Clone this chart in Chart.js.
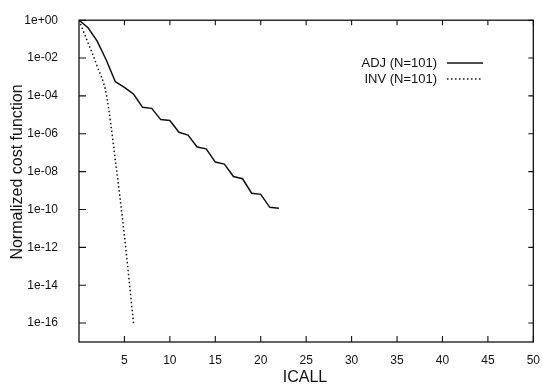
<!DOCTYPE html>
<html><head><meta charset="utf-8">
<script src="https://cdn.jsdelivr.net/npm/chart.js@4"></script>
<style>html,body{margin:0;padding:0;background:#fff}#wrap{width:543px;height:389px;position:relative}</style>
</head><body><div id="wrap"><canvas id="c" width="543" height="389"></canvas></div>
<script>
// ---- data ----
const adjIcall = [0,1,2,3,4,5,6,7,8,9,10,11,12,13,14,15,16,17,18,19,20,21,22];
const adjValues = [1, 4.0e-1, 7.9e-2, 7.9e-3, 5.6e-4, 2.8e-4, 1.26e-4, 2.5e-5, 2.2e-5, 5.6e-6, 5.0e-6,
  1.2e-6, 8.5e-7, 2.0e-7, 1.6e-7, 3.2e-8, 2.5e-8, 5.5e-9, 4.2e-9, 7.2e-10, 6.3e-10, 1.3e-10, 1.17e-10];
const invIcall = [0,1,2,3,4,5,6];
const invValues = [1, 6.3e-2, 3.7e-3, 1.26e-4, 4.0e-8, 4.0e-12, 1.0e-16];
const seriesLabels = ['ADJ (N=101)', 'INV (N=101)'];
const xTicks = [5,10,15,20,25,30,35,40,45,50];
const yTicks = [1e0,1e-2,1e-4,1e-6,1e-8,1e-10,1e-12,1e-14,1e-16];
const yTickLabels = ['1e+00','1e-02','1e-04','1e-06','1e-08','1e-10','1e-12','1e-14','1e-16'];
const xTitle = 'ICALL';
const yTitle = 'Normalized cost function';

const INK = '#111';
const FONT = '"Liberation Sans", Arial, Helvetica, sans-serif';

const framePlugin = {
  id: 'frame',
  afterDatasetsDraw(chart) {
    const {ctx, chartArea: a, scales: {x, y}} = chart;
    ctx.save();
    ctx.strokeStyle = INK;
    ctx.lineWidth = 1.3;
    ctx.strokeRect(a.left, a.top, a.right - a.left, a.bottom - a.top);
    ctx.lineWidth = 1.1;
    ctx.beginPath();
    xTicks.forEach(v => {
      const px = x.getPixelForValue(v);
      ctx.moveTo(px, a.bottom); ctx.lineTo(px, a.bottom - 6);
      ctx.moveTo(px, a.top); ctx.lineTo(px, a.top + 5);
    });
    yTicks.forEach(v => {
      const py = y.getPixelForValue(v);
      ctx.moveTo(a.left, py); ctx.lineTo(a.left + 7, py);
      ctx.moveTo(a.right, py); ctx.lineTo(a.right - 5, py);
    });
    ctx.stroke();

    // axis titles
    ctx.fillStyle = INK;
    ctx.font = '16px ' + FONT;
    ctx.textAlign = 'center';
    ctx.textBaseline = 'middle';
    ctx.fillText(xTitle, 305, 378);
    ctx.save();
    ctx.translate(18, 172);
    ctx.rotate(-Math.PI / 2);
    ctx.fillText(yTitle, 0, 0);
    ctx.restore();

    // legend
    ctx.font = '13px ' + FONT;
    ctx.textAlign = 'right';
    chart.data.datasets.forEach((ds, i) => {
      const ty = 63 + i * 16;
      ctx.fillText(ds.label, 437, ty);
      ctx.save();
      ctx.strokeStyle = ds.borderColor;
      ctx.lineWidth = ds.borderWidth;
      ctx.setLineDash(ds.borderDash || []);
      ctx.beginPath();
      ctx.moveTo(447, ty); ctx.lineTo(483, ty);
      ctx.stroke();
      ctx.restore();
    });
    ctx.restore();
  }
};

new Chart(document.getElementById('c'), {
  type: 'line',
  data: {
    datasets: [
      { label: seriesLabels[0], data: adjIcall.map((v, i) => ({x: v, y: adjValues[i]})),
        borderColor: INK, borderWidth: 1.5, pointRadius: 0, tension: 0, fill: false },
      { label: seriesLabels[1], data: invIcall.map((v, i) => ({x: v, y: invValues[i]})),
        borderColor: INK, borderWidth: 1.5, borderDash: [1.5, 2.5], pointRadius: 0,
        cubicInterpolationMode: 'monotone', fill: false }
    ]
  },
  options: {
    responsive: false,
    animation: false,
    devicePixelRatio: 1,
    layout: { padding: { top: 19, right: 8, left: 0, bottom: 0 } },
    plugins: { legend: { display: false }, tooltip: { enabled: false } },
    scales: {
      x: {
        type: 'linear', min: 0, max: 50,
        grid: { display: false }, border: { display: false },
        afterBuildTicks: s => { s.ticks = xTicks.map(v => ({value: v})); },
        afterFit: s => { s.height = 47; },
        ticks: { autoSkip: false, maxRotation: 0, padding: 3, color: INK,
                 font: { family: FONT, size: 12 }, callback: v => String(v) }
      },
      y: {
        type: 'logarithmic', min: 1e-17, max: 1,
        grid: { display: false }, border: { display: false },
        afterBuildTicks: s => { s.ticks = yTicks.map(v => ({value: v})); },
        afterFit: s => { s.width = 79; },
        ticks: { autoSkip: false, padding: 13, color: INK,
                 font: { family: FONT, size: 12 },
                 callback: (v, i) => yTickLabels[i] }
      }
    }
  },
  plugins: [framePlugin]
});
</script>
</body></html>
